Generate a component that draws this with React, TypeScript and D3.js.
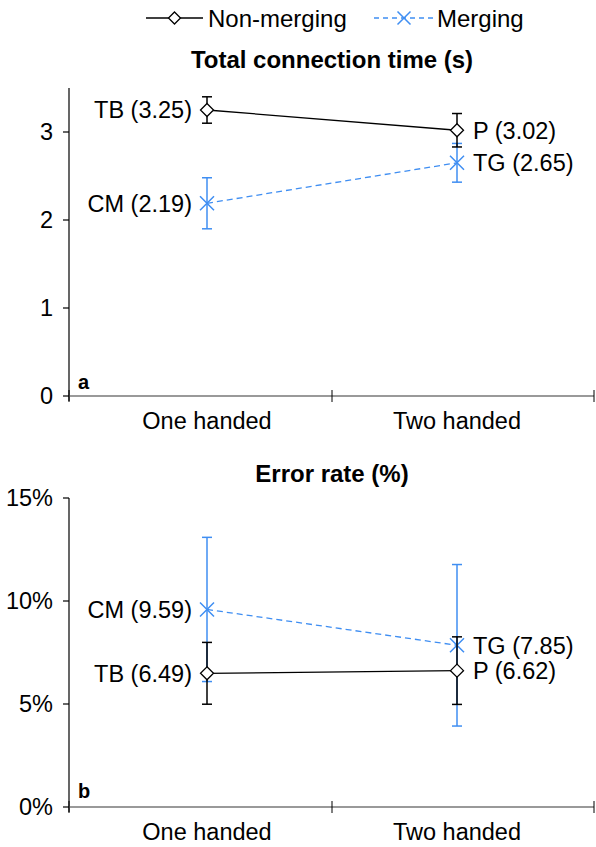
import React from "react";
import * as d3 from "d3";

const categories = ["One handed", "Two handed"];

// panel a: total connection time (s)
const timeNonMerging = [3.25, 3.02];
const timeNonMergingErr = [0.15, 0.19];
const timeMerging = [2.19, 2.65];
const timeMergingErr = [0.29, 0.22];
const timeTicks = [0, 1, 2, 3];

// panel b: error rate (%)
const errNonMerging = [6.49, 6.62];
const errNonMergingErr = [1.5, 1.64];
const errMerging = [9.59, 7.85];
const errMergingErr = [3.5, 3.92];
const errTicks = [0, 5, 10, 15];

const nonMergingNames = ["TB", "P"];
const mergingNames = ["CM", "TG"];

const BLUE = "#3f8ef2";
const FONT = "'Liberation Sans', Arial, sans-serif";
const AXIS_L = 69;
const AXIS_R = 594;

const x = d3.scalePoint<string>().domain(categories).range([207, 457]);
const xBounds = [AXIS_L, ((x(categories[0]) as number) + (x(categories[1]) as number)) / 2, AXIS_R];

const Diamond = ({ cx, cy, r = 6.5 }: { cx: number; cy: number; r?: number }) => (
  <path
    d={`M${cx},${cy - r}L${cx + r},${cy}L${cx},${cy + r}L${cx - r},${cy}Z`}
    fill="#fff"
    stroke="#000"
    strokeWidth={1.3}
  />
);

const Cross = ({ cx, cy, r = 7 }: { cx: number; cy: number; r?: number }) => (
  <path
    d={`M${cx - r},${cy - r}L${cx + r},${cy + r}M${cx - r},${cy + r}L${cx + r},${cy - r}`}
    stroke={BLUE}
    strokeWidth={1.5}
    fill="none"
  />
);

type PanelProps = {
  title: string;
  titleY: number;
  letter: string;
  letterY: number;
  domain: [number, number];
  range: [number, number];
  ticks: number[];
  fmt: (v: number) => string;
  nm: number[];
  nmErr: number[];
  mg: number[];
  mgErr: number[];
  labelY: number;
};

const Panel = (p: PanelProps) => {
  const y = d3.scaleLinear().domain(p.domain).range(p.range);
  const line = d3
    .line<number>()
    .x((_, i) => x(categories[i]) as number)
    .y((d) => y(d));

  const series = [
    { vals: p.mg, errs: p.mgErr, names: mergingNames, color: BLUE, dash: "6,4", kind: "x" },
    { vals: p.nm, errs: p.nmErr, names: nonMergingNames, color: "#000", dash: null, kind: "d" },
  ];

  return (
    <g>
      <text x={332} y={p.titleY} textAnchor="middle" fontWeight="bold" fontSize={24}>
        {p.title}
      </text>
      {/* y axis */}
      <line x1={AXIS_L} x2={AXIS_L} y1={p.range[1]} y2={p.range[0] + 5} stroke="#000" strokeWidth={1.2} />
      {p.ticks.map((t) => (
        <g key={t}>
          <line x1={AXIS_L - 6} x2={AXIS_L} y1={y(t)} y2={y(t)} stroke="#000" strokeWidth={1.2} />
          <text x={53} y={y(t)} dy="0.36em" textAnchor="end" fontSize={23.5}>
            {p.fmt(t)}
          </text>
        </g>
      ))}
      {/* x axis */}
      <line x1={AXIS_L} x2={AXIS_R} y1={y(0)} y2={y(0)} stroke="#777" strokeWidth={1.3} />
      {xBounds.map((b, i) => (
        <line key={i} x1={b} x2={b} y1={y(0) - 6} y2={y(0) + 6} stroke="#000" strokeWidth={1} />
      ))}
      {categories.map((c) => (
        <text key={c} x={x(c)} y={p.labelY} textAnchor="middle" fontSize={23.5}>
          {c}
        </text>
      ))}
      <text x={78} y={p.letterY} fontWeight="bold" fontSize={20}>
        {p.letter}
      </text>
      {series.map((s, si) => (
        <g key={si}>
          <path
            d={line(s.vals) || ""}
            fill="none"
            stroke={s.color}
            strokeWidth={1.3}
            strokeDasharray={s.dash || undefined}
          />
          {s.vals.map((v, i) => {
            const cx = x(categories[i]) as number;
            const top = y(v + s.errs[i]);
            const bot = y(v - s.errs[i]);
            return (
              <g key={i}>
                <line x1={cx} x2={cx} y1={top} y2={bot} stroke={s.color} strokeWidth={1.5} />
                <line x1={cx - 5} x2={cx + 5} y1={top} y2={top} stroke={s.color} strokeWidth={1.5} />
                <line x1={cx - 5} x2={cx + 5} y1={bot} y2={bot} stroke={s.color} strokeWidth={1.5} />
                {s.kind === "d" ? <Diamond cx={cx} cy={y(v)} /> : <Cross cx={cx} cy={y(v)} />}
              </g>
            );
          })}
        </g>
      ))}
      {series.map((s, si) =>
        s.vals.map((v, i) => {
          const cx = x(categories[i]) as number;
          const left = i === 0;
          return (
            <text
              key={`${si}-${i}`}
              x={left ? cx - 15 : cx + 16}
              y={y(v)}
              dy="0.36em"
              textAnchor={left ? "end" : "start"}
              fontSize={23.5}
            >
              {`${s.names[i]} (${v.toFixed(2)})`}
            </text>
          );
        })
      )}
    </g>
  );
};

export default function App() {
  return (
    <svg
      width={596}
      height={847}
      style={{ position: "absolute", left: 0, top: 0, background: "#fff" }}
      fontFamily={FONT}
    >
      {/* legend */}
      <g>
        <line x1={146} x2={203} y1={18} y2={18} stroke="#000" strokeWidth={1.3} />
        <Diamond cx={174.5} cy={18} r={6} />
        <text x={208} y={18} dy="0.36em" fontSize={24}>
          Non-merging
        </text>
        <line x1={374} x2={434} y1={18} y2={18} stroke={BLUE} strokeWidth={1.3} strokeDasharray="5,4" />
        <Cross cx={404} cy={18} r={6.5} />
        <text x={437} y={18} dy="0.36em" fontSize={24}>
          Merging
        </text>
      </g>
      <Panel
        title="Total connection time (s)"
        titleY={68}
        letter="a"
        letterY={389}
        domain={[0, 3.5]}
        range={[396, 88]}
        ticks={timeTicks}
        fmt={(v) => `${v}`}
        nm={timeNonMerging}
        nmErr={timeNonMergingErr}
        mg={timeMerging}
        mgErr={timeMergingErr}
        labelY={429}
      />
      <Panel
        title="Error rate (%)"
        titleY={482}
        letter="b"
        letterY={798}
        domain={[0, 15]}
        range={[807, 498]}
        ticks={errTicks}
        fmt={(v) => `${v}%`}
        nm={errNonMerging}
        nmErr={errNonMergingErr}
        mg={errMerging}
        mgErr={errMergingErr}
        labelY={840}
      />
    </svg>
  );
}
